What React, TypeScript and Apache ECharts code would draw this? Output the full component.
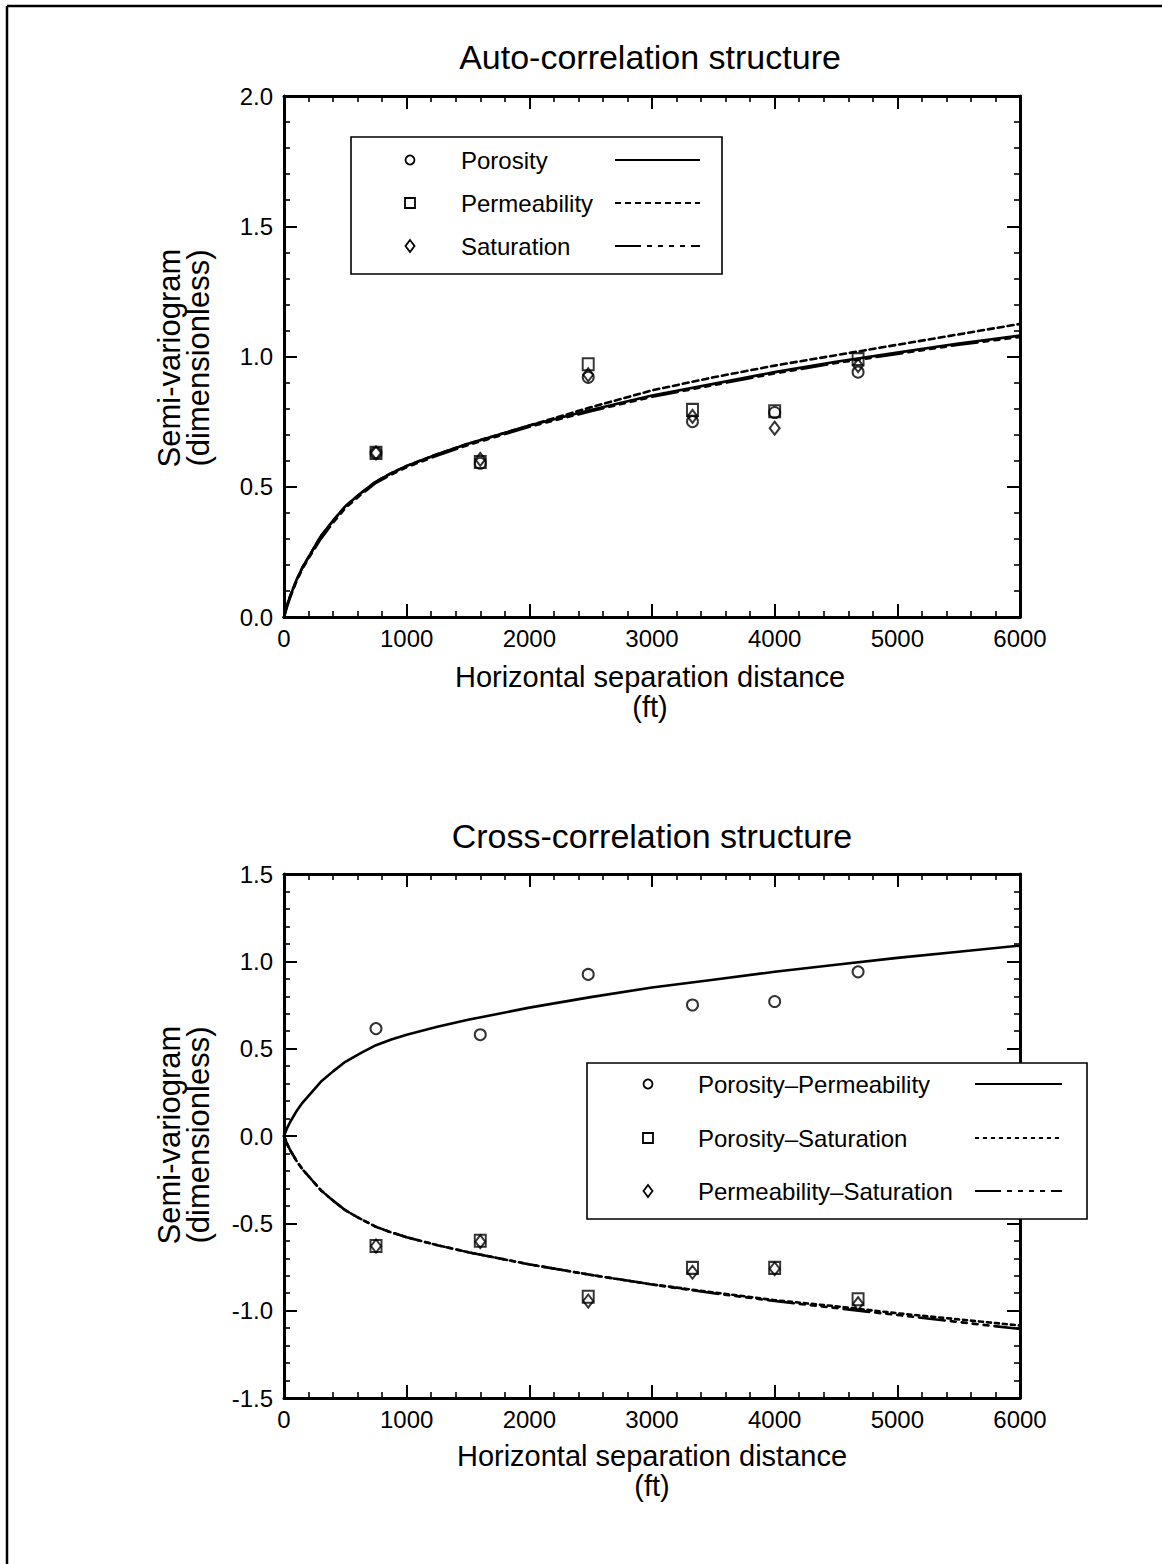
import React, { useEffect, useRef } from "react";
import * as echarts from "echarts";

// Sample lag distances (ft) of the experimental semi-variogram points
const lagFt = [750, 1600, 2480, 3330, 4000, 4680];

// Auto-correlation: experimental values
const autoPorosity = [0.63, 0.59, 0.92, 0.75, 0.785, 0.94];
const autoPermeability = [0.63, 0.595, 0.97, 0.795, 0.79, 0.99];
const autoSaturation = [0.63, 0.605, 0.93, 0.77, 0.725, 0.965];

// Cross-correlation: experimental values
const crossPorPerm = [0.615, 0.58, 0.925, 0.75, 0.77, 0.94];
const crossPorSat = [-0.63, -0.6, -0.92, -0.755, -0.755, -0.935];
const crossPermSat = [-0.63, -0.605, -0.945, -0.78, -0.76, -0.96];

// Distances at which the fitted model curves are sampled (ft)
const fitFt = [0, 25, 50, 100, 150, 200, 300, 400, 500, 625, 750, 875, 1000, 1250, 1500, 1750, 2000, 2500, 3000, 3500, 4000, 4500, 5000, 5500, 6000];

// Fitted models, auto-correlation
const fitPorosity = [0, 0.045, 0.08, 0.14, 0.19, 0.23, 0.31, 0.37, 0.425, 0.475, 0.52, 0.552, 0.58, 0.625, 0.665, 0.7, 0.735, 0.795, 0.85, 0.895, 0.94, 0.98, 1.015, 1.05, 1.08];
const fitPermeability = [0, 0.045, 0.08, 0.14, 0.19, 0.23, 0.31, 0.37, 0.425, 0.475, 0.52, 0.552, 0.58, 0.625, 0.665, 0.7, 0.735, 0.805, 0.87, 0.92, 0.965, 1.005, 1.045, 1.085, 1.125];
const fitSaturation = [0, 0.04, 0.075, 0.135, 0.185, 0.225, 0.3, 0.362, 0.418, 0.469, 0.515, 0.547, 0.575, 0.62, 0.66, 0.695, 0.73, 0.79, 0.845, 0.89, 0.935, 0.975, 1.01, 1.045, 1.075];

// Fitted models, cross-correlation
const fitPorPerm = [0, 0.045, 0.08, 0.14, 0.19, 0.23, 0.31, 0.37, 0.425, 0.475, 0.52, 0.552, 0.58, 0.625, 0.665, 0.7, 0.735, 0.795, 0.85, 0.895, 0.94, 0.98, 1.02, 1.055, 1.09];
const fitPorSat = [0, -0.045, -0.08, -0.14, -0.19, -0.23, -0.31, -0.37, -0.425, -0.475, -0.52, -0.552, -0.58, -0.625, -0.665, -0.7, -0.735, -0.795, -0.85, -0.895, -0.94, -0.975, -1.015, -1.05, -1.085];
const fitPermSat = [0, -0.045, -0.08, -0.14, -0.19, -0.23, -0.31, -0.37, -0.425, -0.475, -0.52, -0.552, -0.58, -0.625, -0.665, -0.7, -0.735, -0.795, -0.85, -0.9, -0.945, -0.985, -1.025, -1.065, -1.105];

const FONT = "'Liberation Sans', Arial, Helvetica, sans-serif";
const INK = "#000";

const DOTTED = [6, 4];
const FINE_DOTTED = [4, 4];
const DASH_DOT = [26, 6, 5, 6, 5, 6, 5, 6, 5, 6];

function pairs(xs: number[], ys: number[]) {
  return xs.map((x, i) => [x, ys[i]]);
}

function xAxes(gridIndex: number) {
  const base = {
    type: "value" as const,
    gridIndex,
    min: 0,
    max: 6000,
    interval: 1000,
    axisLine: { show: true, onZero: false, lineStyle: { color: INK, width: 3 } },
    axisTick: { show: true, inside: true, length: 13, lineStyle: { color: INK, width: 2 } },
    minorTick: { show: true, splitNumber: 5, length: 6, lineStyle: { color: INK, width: 1.6 } },
    splitLine: { show: false },
    minorSplitLine: { show: false },
  };
  return [
    {
      ...base,
      position: "bottom",
      axisLabel: {
        show: true,
        color: INK,
        fontSize: 24,
        fontFamily: FONT,
        margin: 9,
        formatter: (v: number) => String(v),
      },
    },
    { ...base, position: "top", axisLabel: { show: false } },
  ];
}

function yAxes(gridIndex: number, min: number, max: number) {
  const base = {
    type: "value" as const,
    gridIndex,
    min,
    max,
    interval: 0.5,
    axisLine: { show: true, onZero: false, lineStyle: { color: INK, width: 3 } },
    axisTick: { show: true, inside: true, length: 13, lineStyle: { color: INK, width: 2 } },
    minorTick: { show: true, splitNumber: 5, length: 6, lineStyle: { color: INK, width: 1.6 } },
    splitLine: { show: false },
    minorSplitLine: { show: false },
  };
  return [
    {
      ...base,
      position: "left",
      axisLabel: {
        show: true,
        color: INK,
        fontSize: 24,
        fontFamily: FONT,
        margin: 11,
        formatter: (v: number) => v.toFixed(1),
      },
    },
    { ...base, position: "right", axisLabel: { show: false } },
  ];
}

function fitLine(name: string, axis: number, ys: number[], dash: any) {
  return {
    name,
    type: "line",
    xAxisIndex: axis,
    yAxisIndex: axis,
    data: pairs(fitFt, ys),
    showSymbol: false,
    symbol: "none",
    smooth: false,
    z: 2,
    lineStyle: { color: INK, width: 2.6, type: dash, join: "round", cap: "round" },
  };
}

function points(name: string, axis: number, ys: number[], symbol: string, size: any) {
  return {
    name,
    type: "scatter",
    xAxisIndex: axis,
    yAxisIndex: axis,
    data: pairs(lagFt, ys),
    symbol,
    symbolSize: size,
    z: 3,
    itemStyle: { color: "rgba(0,0,0,0)", borderColor: INK, borderWidth: 2 },
  };
}

function text(str: string, x: number, y: number, size: number, opts: any = {}) {
  return {
    type: "text",
    x,
    y,
    z: 100,
    rotation: opts.rotation || 0,
    style: {
      text: str,
      fill: INK,
      fontSize: size,
      fontFamily: FONT,
      align: opts.align || "center",
      verticalAlign: "middle",
    },
  };
}

function marker(kind: string, cx: number, cy: number) {
  const stroke = { fill: "#fff", stroke: INK, lineWidth: 1.8 };
  if (kind === "circle") return { type: "circle", z: 101, shape: { cx, cy, r: 4.5 }, style: stroke };
  if (kind === "rect") return { type: "rect", z: 101, shape: { x: cx - 5, y: cy - 5, width: 10, height: 10 }, style: stroke };
  return {
    type: "polygon",
    z: 101,
    shape: { points: [[cx, cy - 6], [cx + 4.5, cy], [cx, cy + 6], [cx - 4.5, cy]] },
    style: stroke,
  };
}

function sample(x1: number, x2: number, y: number, dash: any) {
  return {
    type: "line",
    z: 101,
    shape: { x1, y1: y, x2, y2: y },
    style: { stroke: INK, lineWidth: 2, lineDash: dash },
  };
}

function legendBox(
  box: { x: number; y: number; w: number; h: number },
  rows: { label: string; kind: string; dash: any; y: number }[],
  markerX: number,
  textX: number,
  lineX1: number,
  lineX2: number
) {
  const out: any[] = [
    {
      type: "rect",
      z: 99,
      shape: { x: box.x, y: box.y, width: box.w, height: box.h },
      style: { fill: "#fff", stroke: INK, lineWidth: 1.6 },
    },
  ];
  rows.forEach((r) => {
    out.push(marker(r.kind, markerX, r.y));
    out.push(text(r.label, textX, r.y, 24, { align: "left" }));
    out.push(sample(lineX1, lineX2, r.y, r.dash));
  });
  return out;
}

const autoLegend = [
  { label: "Porosity", kind: "circle", dash: null, y: 160 },
  { label: "Permeability", kind: "rect", dash: DOTTED, y: 203 },
  { label: "Saturation", kind: "diamond", dash: DASH_DOT, y: 246 },
];

const crossLegend = [
  { label: "Porosity–Permeability", kind: "circle", dash: null, y: 1084 },
  { label: "Porosity–Saturation", kind: "rect", dash: FINE_DOTTED, y: 1138 },
  { label: "Permeability–Saturation", kind: "diamond", dash: DASH_DOT, y: 1191 },
];

function buildOption() {
  const graphic: any[] = [
    // page frame
    { type: "line", z: 100, shape: { x1: 7, y1: 6, x2: 1162, y2: 6 }, style: { stroke: INK, lineWidth: 2.5 } },
    { type: "line", z: 100, shape: { x1: 7, y1: 6, x2: 7, y2: 1564 }, style: { stroke: INK, lineWidth: 2.5 } },
    // titles
    text("Auto-correlation structure", 650, 57, 34),
    text("Cross-correlation structure", 652, 836, 34),
    // axis names, upper panel
    text("Semi-variogram", 169, 358, 31, { rotation: Math.PI / 2 }),
    text("(dimensionless)", 198, 358, 31, { rotation: Math.PI / 2 }),
    text("Horizontal separation distance", 650, 677, 29),
    text("(ft)", 650, 707, 29),
    // axis names, lower panel
    text("Semi-variogram", 169, 1135, 31, { rotation: Math.PI / 2 }),
    text("(dimensionless)", 198, 1135, 31, { rotation: Math.PI / 2 }),
    text("Horizontal separation distance", 652, 1456, 29),
    text("(ft)", 652, 1486, 29),
    ...legendBox({ x: 351, y: 137, w: 371, h: 137 }, autoLegend, 410, 461, 615, 700),
    ...legendBox({ x: 587, y: 1063, w: 500, h: 156 }, crossLegend, 648, 698, 975, 1062),
  ];

  return {
    animation: false,
    backgroundColor: "#fff",
    grid: [
      { left: 284, top: 96, width: 736, height: 521 },
      { left: 284, top: 874, width: 736, height: 524 },
    ],
    xAxis: [...xAxes(0), ...xAxes(1)],
    yAxis: [...yAxes(0, 0, 2), ...yAxes(1, -1.5, 1.5)],
    series: [
      fitLine("Porosity", 0, fitPorosity, "solid"),
      fitLine("Permeability", 0, fitPermeability, DOTTED),
      fitLine("Saturation", 0, fitSaturation, DASH_DOT),
      points("Porosity", 0, autoPorosity, "circle", 11),
      points("Permeability", 0, autoPermeability, "rect", [11, 12]),
      points("Saturation", 0, autoSaturation, "diamond", [10, 13]),
      fitLine("Porosity–Permeability", 2, fitPorPerm, "solid"),
      fitLine("Porosity–Saturation", 2, fitPorSat, FINE_DOTTED),
      fitLine("Permeability–Saturation", 2, fitPermSat, DASH_DOT),
      points("Porosity–Permeability", 2, crossPorPerm, "circle", 11),
      points("Porosity–Saturation", 2, crossPorSat, "rect", [11, 12]),
      points("Permeability–Saturation", 2, crossPermSat, "diamond", [10, 13]),
    ],
    graphic,
  };
}

export default function App() {
  const ref = useRef<HTMLDivElement>(null);
  useEffect(() => {
    if (!ref.current) return;
    const chart = echarts.init(ref.current, null, { renderer: "svg" });
    chart.setOption(buildOption() as any);
    return () => chart.dispose();
  }, []);
  return (
    <div
      ref={ref}
      style={{ position: "absolute", left: 0, top: 0, width: 1162, height: 1564, background: "#fff" }}
    />
  );
}
